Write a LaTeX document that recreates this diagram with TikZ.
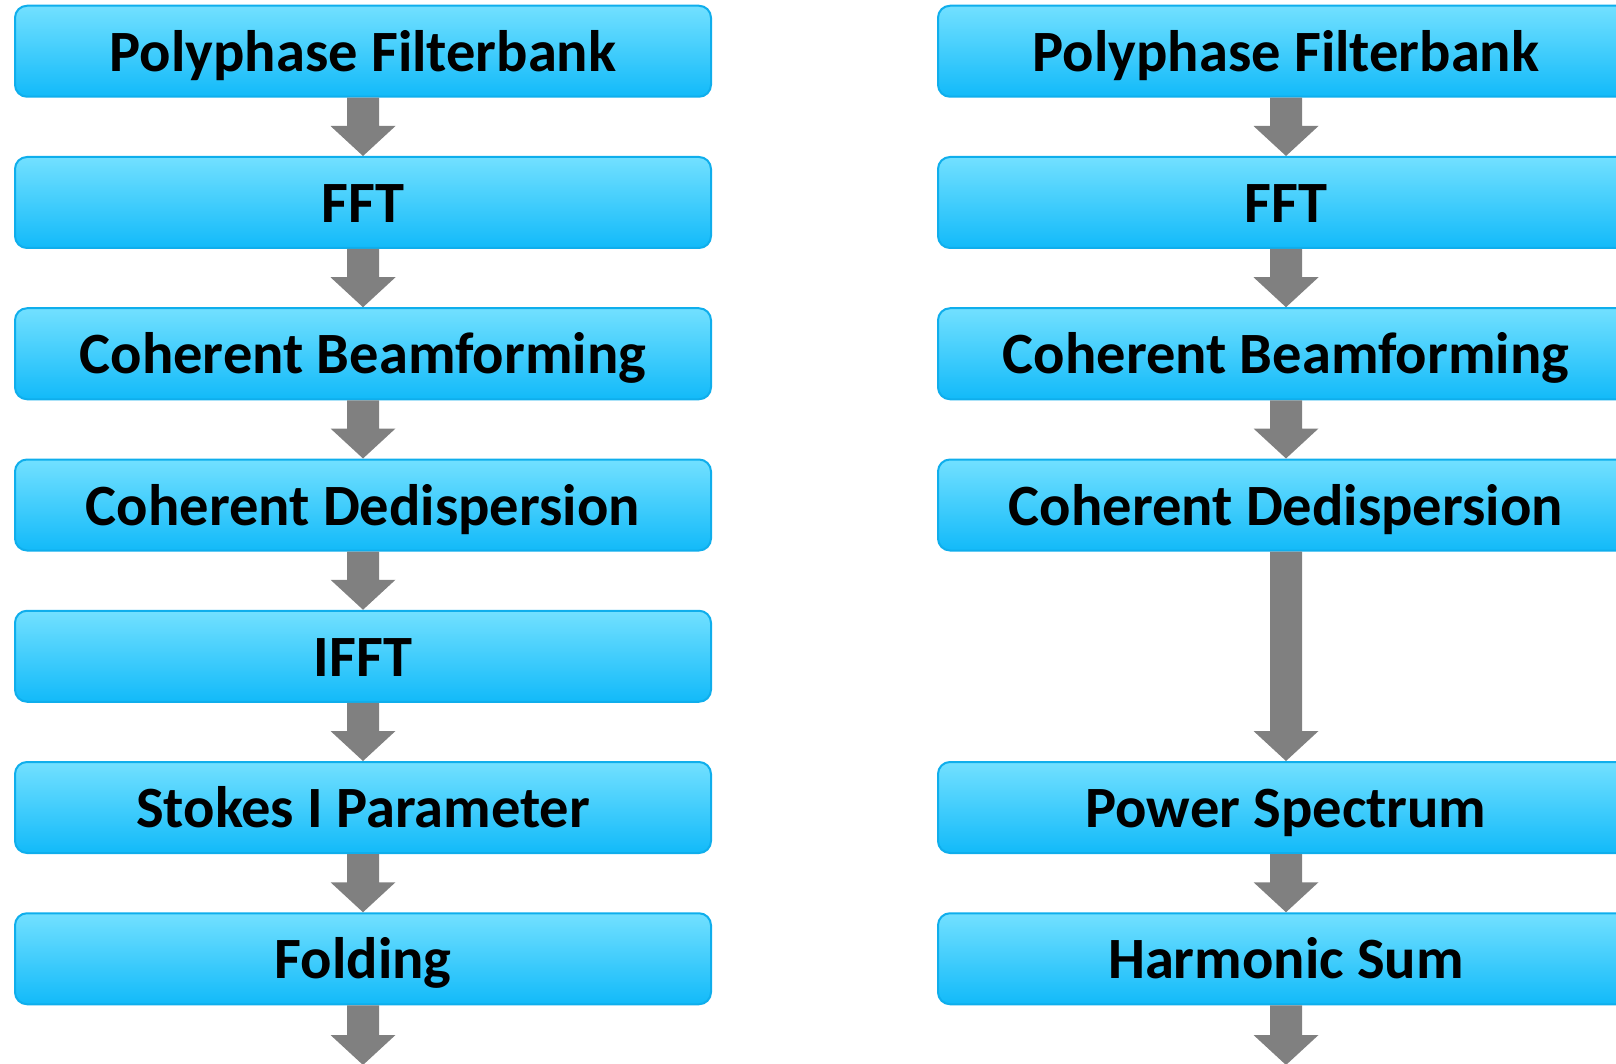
\documentclass[tikz,border=0pt]{standalone}
\usepackage{fontspec}
\setmainfont{Carlito}
\usetikzlibrary{calc}

\definecolor{boxtop}{HTML}{72E0FF}
\definecolor{boxbottom}{HTML}{12BAF9}
\definecolor{boxedge}{HTML}{0FAEEC}
\definecolor{arrowgray}{HTML}{808080}

\tikzset{
  stage/.style={
    draw=boxedge, line width=2pt, rounded corners=12pt,
    top color=boxtop, bottom color=boxbottom,
    minimum width=696pt, minimum height=91pt,
    inner sep=0pt, text height=40pt, text depth=0pt,
    font=\fontsize{58.5}{64}\selectfont\bfseries
  },
  flow/.style={fill=arrowgray}
}

% block arrow from the bottom of one stage to the top of the next
\newcommand{\blockarrow}[2]{%
  \fill[flow] ($(#1.south)+(-16,0)$) -- ($(#2.north)+(-16,-30)$)
    -- ($(#2.north)+(-32.5,-30)$) -- (#2.north)
    -- ($(#2.north)+(32.5,-30)$) -- ($(#2.north)+(16,-30)$)
    -- ($(#1.south)+(16,0)$) -- cycle;}

\begin{document}
\begin{tikzpicture}[x=1pt,y=-1pt]
\path[use as bounding box, clip] (0,0) rectangle (1616,1064);

% left chain
\node[stage] (l1) at (363,51.25)  {Polyphase Filterbank};
\node[stage] (l2) at (363,202.5)  {FFT};
\node[stage] (l3) at (363,353.75) {Coherent Beamforming};
\node[stage] (l4) at (363,505)    {Coherent Dedispersion};
\node[stage] (l5) at (363,656.25) {IFFT};
\node[stage] (l6) at (363,807.5)  {Stokes I Parameter};
\node[stage] (l7) at (363,958.75) {Folding};
\coordinate (lend) at (363,1065);

% right chain
\node[stage] (r1) at (1286,51.25)  {Polyphase Filterbank};
\node[stage] (r2) at (1286,202.5)  {FFT};
\node[stage] (r3) at (1286,353.75) {Coherent Beamforming};
\node[stage] (r4) at (1286,505)    {Coherent Dedispersion};
\node[stage] (r6) at (1286,807.5)  {Power Spectrum};
\node[stage] (r7) at (1286,958.75) {Harmonic Sum};
\coordinate (rend) at (1286,1065);

\blockarrow{l1}{l2}
\blockarrow{l2}{l3}
\blockarrow{l3}{l4}
\blockarrow{l4}{l5}
\blockarrow{l5}{l6}
\blockarrow{l6}{l7}
\blockarrow{l7}{lend}

\blockarrow{r1}{r2}
\blockarrow{r2}{r3}
\blockarrow{r3}{r4}
\blockarrow{r4}{r6}
\blockarrow{r6}{r7}
\blockarrow{r7}{rend}
\end{tikzpicture}
\end{document}
